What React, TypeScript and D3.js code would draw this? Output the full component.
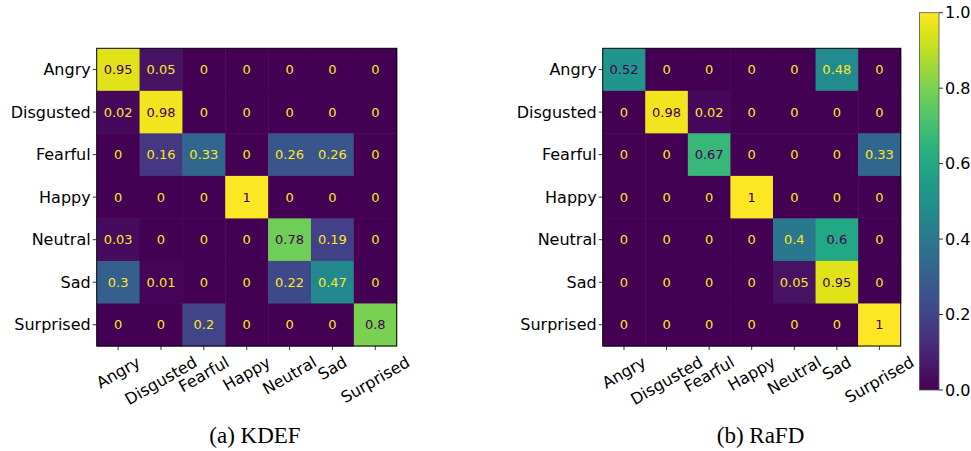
import React from "react";
import * as d3 from "d3";

const categories = ["Angry", "Disgusted", "Fearful", "Happy", "Neutral", "Sad", "Surprised"];

const kdefValues: number[][] = [
  [0.95, 0.05, 0, 0, 0, 0, 0],
  [0.02, 0.98, 0, 0, 0, 0, 0],
  [0, 0.16, 0.33, 0, 0.26, 0.26, 0],
  [0, 0, 0, 1, 0, 0, 0],
  [0.03, 0, 0, 0, 0.78, 0.19, 0],
  [0.3, 0.01, 0, 0, 0.22, 0.47, 0],
  [0, 0, 0.2, 0, 0, 0, 0.8],
];

const rafdValues: number[][] = [
  [0.52, 0, 0, 0, 0, 0.48, 0],
  [0, 0.98, 0.02, 0, 0, 0, 0],
  [0, 0, 0.67, 0, 0, 0, 0.33],
  [0, 0, 0, 1, 0, 0, 0],
  [0, 0, 0, 0, 0.4, 0.6, 0],
  [0, 0, 0, 0, 0.05, 0.95, 0],
  [0, 0, 0, 0, 0, 0, 1],
];

const colorbarTicks = [0, 0.2, 0.4, 0.6, 0.8, 1.0];
const captions = ["(a) KDEF", "(b) RaFD"];

const SANS = "'DejaVu Sans', sans-serif";
const SERIF = "'Liberation Serif', 'Times New Roman', serif";

let ctx: CanvasRenderingContext2D | null = null;
function measure(text: string, font: string): number {
  if (!ctx) {
    const c = document.createElement("canvas");
    ctx = c.getContext("2d");
  }
  if (!ctx) return text.length * 9;
  ctx.font = font;
  return ctx.measureText(text).width;
}

const color = d3.scaleSequential(d3.interpolateViridis).domain([0, 1]);

function Matrix({ values, x0, x1, y0, y1, caption, captionX }: any) {
  const xs = d3.scaleBand<string>().domain(categories).range([x0, x1]);
  const ys = d3.scaleBand<string>().domain(categories).range([y0, y1]);
  const bw = xs.bandwidth();
  const bh = ys.bandwidth();
  const fs = 16;
  const H = fs * 1.17;
  const ang = (30 * Math.PI) / 180;
  const labelTop = y1 + 6.5;
  return (
    <g>
      {values.map((row: number[], i: number) =>
        row.map((v: number, j: number) => (
          <rect
            key={`r${i}-${j}`}
            x={xs(categories[j])!}
            y={ys(categories[i])!}
            width={bw + 0.5}
            height={bh + 0.5}
            fill={color(v)}
          />
        ))
      )}
      {values.map((row: number[], i: number) =>
        row.map((v: number, j: number) => (
          <text
            key={`t${i}-${j}`}
            x={xs(categories[j])! + bw / 2}
            y={ys(categories[i])! + bh / 2}
            dy="0.35em"
            textAnchor="middle"
            fontFamily={SANS}
            fontSize={13}
            fill={v >= 0.5 ? color(0) : color(1)}
          >
            {String(v)}
          </text>
        ))
      )}
      <rect x={x0} y={y0} width={x1 - x0} height={y1 - y0} fill="none" stroke="#000" strokeWidth={1} />
      {categories.map((c) => {
        const cy = ys(c)! + bh / 2;
        return (
          <g key={`yl${c}`}>
            <line x1={x0 - 4} x2={x0} y1={cy} y2={cy} stroke="#000" strokeWidth={0.8} />
            <text x={x0 - 6} y={cy} dy="0.35em" textAnchor="end" fontFamily={SANS} fontSize={fs} fill="#000">
              {c}
            </text>
          </g>
        );
      })}
      {categories.map((c) => {
        const cx = xs(c)! + bw / 2;
        const w = measure(c, `${fs}px DejaVu Sans`);
        const h = w * Math.sin(ang) + H * Math.cos(ang);
        const cy = labelTop + h / 2;
        return (
          <g key={`xl${c}`}>
            <line x1={cx} x2={cx} y1={y1} y2={y1 + 4} stroke="#000" strokeWidth={0.8} />
            <text
              x={cx}
              y={cy}
              dy="0.346em"
              textAnchor="middle"
              fontFamily={SANS}
              fontSize={fs}
              fill="#000"
              transform={`rotate(-30 ${cx} ${cy})`}
            >
              {c}
            </text>
          </g>
        );
      })}
      <text x={captionX} y={443} textAnchor="middle" fontFamily={SERIF} fontSize={23} fill="#000">
        {caption}
      </text>
    </g>
  );
}

export default function App() {
  const cbX = 919.5;
  const cbW = 19.5;
  const cbY0 = 12.7;
  const cbY1 = 390;
  const cbScale = d3.scaleLinear().domain([0, 1]).range([cbY1, cbY0]);
  const stops = d3.range(0, 1.0001, 0.05);
  return (
    <svg
      width={971}
      height={451}
      style={{ position: "absolute", left: 0, top: 0, background: "#fff" }}
    >
      <rect x={0} y={0} width={971} height={451} fill="#fff" />
      <Matrix values={kdefValues} x0={96.7} x1={396.7} y0={48.3} y1={346} caption={captions[0]} captionX={255} />
      <Matrix values={rafdValues} x0={602.7} x1={900.7} y0={48.3} y1={346} caption={captions[1]} captionX={760.5} />
      <defs>
        <linearGradient id="cb" x1="0" y1="1" x2="0" y2="0">
          {stops.map((s) => (
            <stop key={s} offset={s} stopColor={color(s)} />
          ))}
        </linearGradient>
      </defs>
      <rect x={cbX} y={cbY0} width={cbW} height={cbY1 - cbY0} fill="url(#cb)" stroke="#555" strokeWidth={0.8} />
      {colorbarTicks.map((t) => (
        <g key={`cb${t}`}>
          <line x1={cbX + cbW} x2={cbX + cbW + 4} y1={cbScale(t)} y2={cbScale(t)} stroke="#000" strokeWidth={0.8} />
          <text x={cbX + cbW + 6} y={cbScale(t)} dy="0.36em" fontFamily={SANS} fontSize={16} fill="#000">
            {t.toFixed(1)}
          </text>
        </g>
      ))}
    </svg>
  );
}
